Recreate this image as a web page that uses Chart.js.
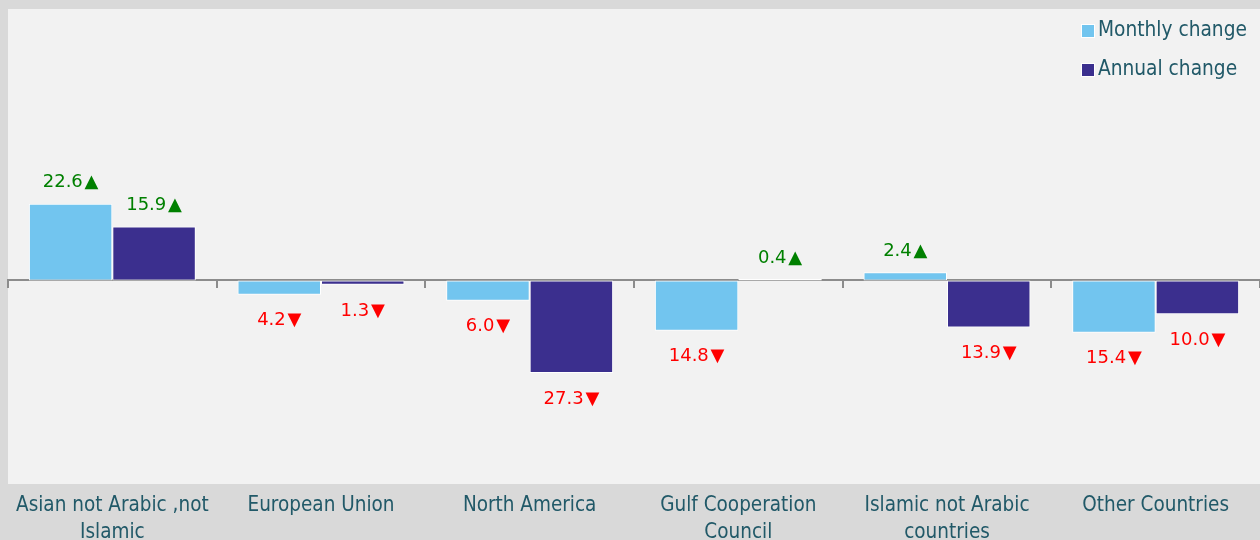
<!DOCTYPE html>
<html>
<head>
<meta charset="utf-8">
<script src="https://cdn.jsdelivr.net/npm/chart.js@4"></script>
<style>
    html, body { margin: 0; padding: 0; background: #d9d9d9; }
    #wrap { width: 1260px; height: 540px; }
</style>
</head>
<body>
<div id="wrap"><canvas id="chart" width="1260" height="540"></canvas></div>
<script>
// Chart data
const categories = [
    ["Asian not Arabic ,not", "Islamic"],
    "European Union",
    "North America",
    ["Gulf Cooperation", "Council"],
    ["Islamic not Arabic", "countries"],
    "Other Countries"
];
const monthlyChange = [22.6, -4.2, -6.0, -14.8, 2.4, -15.4];
const annualChange = [15.9, -1.3, -27.3, 0.4, -13.9, -10.0];
const seriesNames = ["Monthly change", "Annual change"];
const seriesColors = ["#72c5ef", "#3b2f8e"];

const textColor = "#215968";
const labelFont = "'DejaVu Sans', sans-serif";
const axisFont = "'Liberation Sans Narrow', 'DejaVu Sans Condensed', sans-serif";

// Light plot background inside the chart area
const plotBackground = {
    id: "plotBackground",
    beforeDraw(chart) {
        const { ctx, chartArea } = chart;
        ctx.save();
        ctx.fillStyle = "#f2f2f2";
        ctx.fillRect(chartArea.left, chartArea.top, chartArea.right - chartArea.left, chartArea.bottom - chartArea.top);
        ctx.restore();
    }
};

// Value labels with up / down arrows
const valueLabels = {
    id: "valueLabels",
    afterDatasetsDraw(chart) {
        const ctx = chart.ctx;
        ctx.save();
        ctx.font = "18px " + labelFont;
        ctx.textAlign = "center";
        ctx.textBaseline = "middle";
        chart.data.datasets.forEach((ds, i) => {
            chart.getDatasetMeta(i).data.forEach((bar, j) => {
                const v = ds.data[j];
                const up = v >= 0;
                ctx.fillStyle = up ? "#008000" : "#ff0000";
                const text = Math.abs(v).toFixed(1) + "\u200A" + (up ? "\u25B2" : "\u25BC");
                const y = up ? bar.y - 21 : bar.y + 26;
                ctx.fillText(text, bar.x, y);
            });
        });
        ctx.restore();
    }
};

// Legend drawn inside the plot area, top right
const innerLegend = {
    id: "innerLegend",
    afterDraw(chart) {
        const ctx = chart.ctx;
        ctx.save();
        ctx.font = "20.7px " + axisFont;
        ctx.textBaseline = "middle";
        chart.data.datasets.forEach((ds, i) => {
            const y = 31 + i * 39;
            ctx.fillStyle = "#ffffff";
            ctx.fillRect(1081, y - 7, 14, 14);
            ctx.fillStyle = ds.backgroundColor;
            ctx.fillRect(1082, y - 6, 12, 12);
            ctx.fillStyle = textColor;
            ctx.fillText(ds.label, 1098, y);
        });
        ctx.restore();
    }
};

new Chart(document.getElementById("chart").getContext("2d"), {
    type: "bar",
    data: {
        labels: categories,
        datasets: [
            {
                label: seriesNames[0],
                data: monthlyChange,
                backgroundColor: seriesColors[0],
                borderColor: "#ffffff",
                borderWidth: 1,
                borderSkipped: false
            },
            {
                label: seriesNames[1],
                data: annualChange,
                backgroundColor: seriesColors[1],
                borderColor: "#ffffff",
                borderWidth: 1,
                borderSkipped: false
            }
        ]
    },
    options: {
        responsive: false,
        animation: false,
        layout: { padding: { left: 8, top: 9, right: 0, bottom: 0 } },
        datasets: { bar: { categoryPercentage: 0.8, barPercentage: 1.0 } },
        plugins: {
            legend: { display: false },
            tooltip: { enabled: false }
        },
        scales: {
            x: {
                grid: { display: false, drawTicks: false },
                border: { display: false },
                ticks: {
                    color: textColor,
                    font: { family: axisFont, size: 20.5, lineHeight: 1.28 },
                    padding: 9,
                    maxRotation: 0,
                    autoSkip: false
                },
                afterFit(scale) { scale.height = 56; }
            },
            // zero line with category tick marks
            x2: {
                type: "category",
                labels: categories,
                position: { y: 0 },
                offset: true,
                grid: {
                    offset: true,
                    drawOnChartArea: false,
                    tickLength: 7,
                    color: "#8c8c8c",
                    lineWidth: 2
                },
                border: { color: "#8c8c8c", width: 2 },
                ticks: { display: false }
            },
            y: {
                display: false,
                min: -60,
                max: 80
            }
        }
    },
    plugins: [plotBackground, valueLabels, innerLegend]
});
</script>
</body>
</html>
